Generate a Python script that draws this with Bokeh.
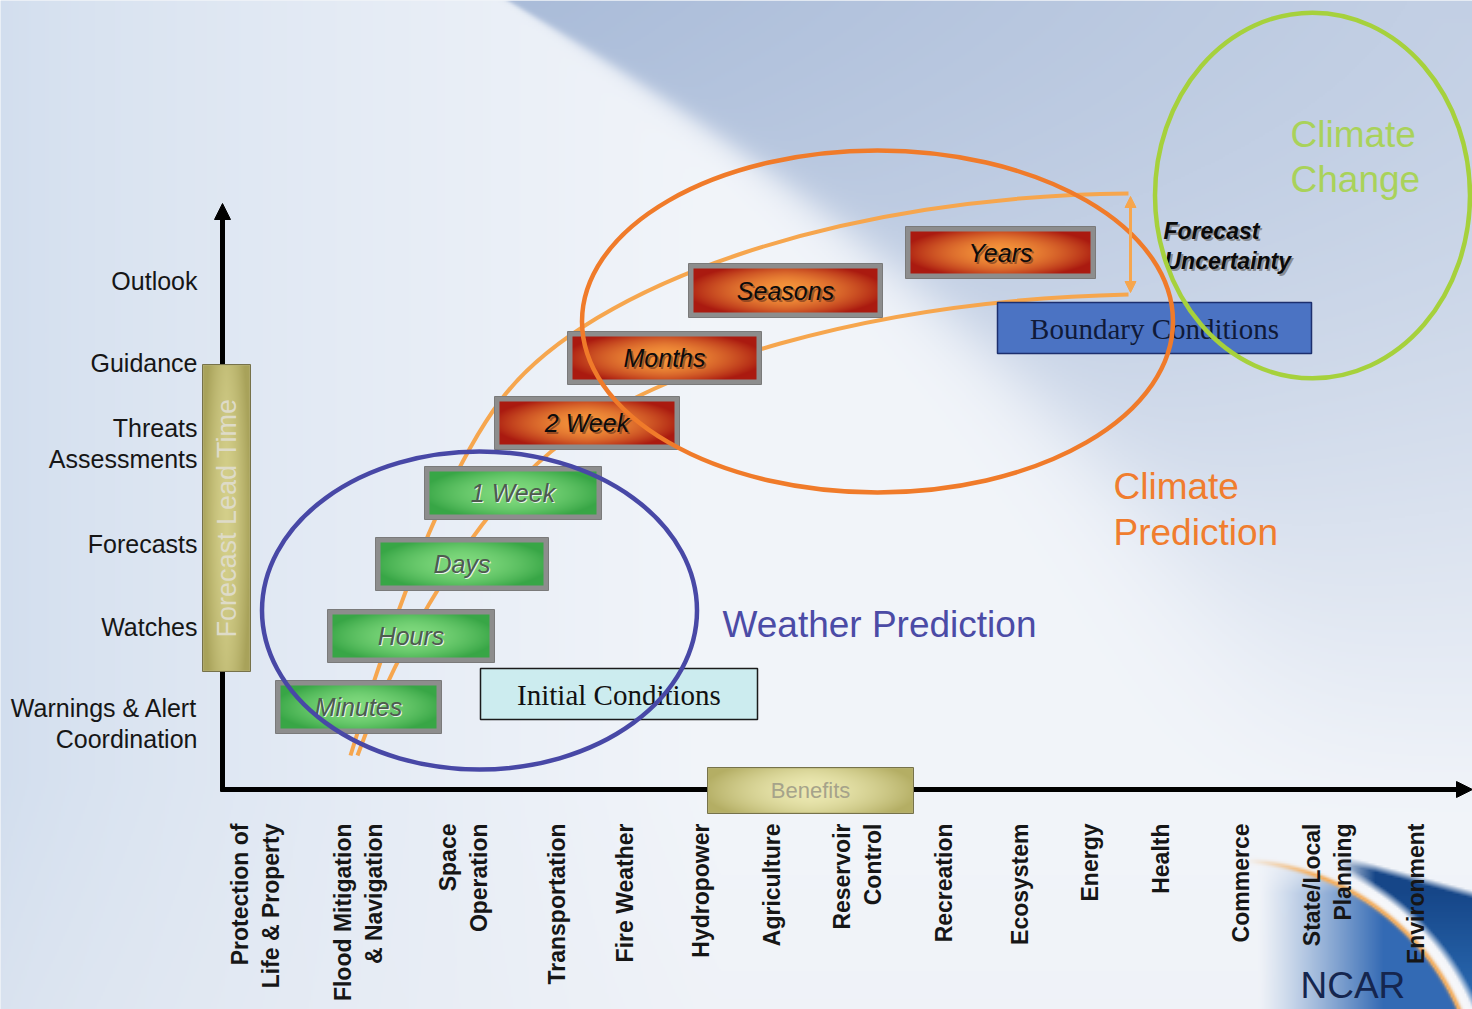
import numpy as np
from bokeh.plotting import figure
from bokeh.models import Arrow, NormalHead, Range1d
from bokeh.core.properties import value
from bokeh.embed import file_html
from bokeh.resources import INLINE

W, H = 1472, 1009

# ---------------- content ----------------
lead_time_levels = ["Outlook", "Guidance", "Threats\nAssessments", "Forecasts",
                    "Watches", "Warnings & Alert\nCoordination"]
benefit_sectors = ["Protection of\nLife & Property", "Flood Mitigation\n& Navigation",
                   "Space\nOperation", "Transportation", "Fire Weather", "Hydropower",
                   "Agriculture", "Reservoir\nControl", "Recreation", "Ecosystem",
                   "Energy", "Health", "Commerce", "State/Local\nPlanning", "Environment"]
forecast_ranges = ["Minutes", "Hours", "Days", "1 Week", "2 Week", "Months", "Seasons", "Years"]
range_regime = ["weather", "weather", "weather", "weather",
                "climate", "climate", "climate", "climate"]
condition_labels = ["Initial Conditions", "Boundary Conditions"]
regime_titles = [["Weather Prediction"], ["Climate", "Prediction"], ["Climate", "Change"]]
uncertainty_label = ["Forecast", "Uncertainty"]

# ---------------- layout (page pixels, measured from the top-left) ----------------
lead_y = [280, 362, 443, 543, 626, 723]
sector_x = [255, 358, 463, 556, 624, 700, 771, 857, 943, 1019, 1089, 1160, 1240, 1327, 1415]
box_l = [275, 327, 375, 424, 494, 567, 688, 905]
box_r = [441, 494, 548, 601, 679, 761, 882, 1095]
box_t = [680, 609, 537, 466, 396, 331, 263, 226]
box_b = [733, 662, 590, 519, 449, 384, 317, 278]
cond_box = [(480, 757, 668, 719), (997, 1311, 302, 353)]
ellipse_cx = [479, 877, 1312]
ellipse_cy = [610, 321, 195]
ellipse_w = [435, 591, 315]
ellipse_h = [318, 342, 366]
ellipse_col = ["#4848a6", "#f07b2a", "#a6d13c"]


def fy(v):
    return H - np.asarray(v, dtype=float)


def to_u32(rgb, flip=True):
    rgb = np.clip(rgb, 0, 255).astype(np.uint8)
    hh, ww = rgb.shape[:2]
    rgba = np.empty((hh, ww, 4), dtype=np.uint8)
    rgba[..., :3] = rgb
    rgba[..., 3] = 255
    if flip:
        rgba = rgba[::-1]
    return np.ascontiguousarray(rgba).view(np.uint32).reshape(hh, ww)


def slide_background(scale=2):
    w, h = W // scale, int(np.ceil(H / scale))
    X, Y = np.meshgrid((np.arange(w) + 0.5) * W / w, (np.arange(h) + 0.5) * H / h)
    left = np.array([210., 222., 238.])
    light = np.array([242., 245., 250.])
    t = (np.clip(X / 720.0, 0, 1) ** 0.75)[..., None]
    col = left + (light - left) * t
    g = (np.clip((Y - 780) / 230.0, 0, 1) * 0.3)[..., None]
    col = col * (1 - g) + np.array([234., 237., 243.]) * g
    # darker diagonal wedge in the upper right
    xb = 507 + 1.663 * Y - 0.000857 * Y ** 2
    soft = 2.0 + 0.07 * Y
    s = 1 / (1 + np.exp(-np.clip((X - xb) / soft, -50, 50)))
    fade = np.clip(1 - Y / 820.0, 0, 1) ** 1.0
    wedge = np.array([170., 188., 217.]) + (np.clip((X - xb) / 900.0, 0, 1)[..., None]
                                              * np.array([24., 19., 11.]))
    m = (s * fade)[..., None]
    col = col * (1 - m) + wedge * m
    # logo swoosh, bottom right
    cx, cy, r = 1230.0, 1110.0, 250.0
    d = np.hypot(X - cx, Y - cy)
    inner = np.clip((r - d) / 2.0, 0, 1)
    t_in = (np.clip((X - 1258) / 125.0, 0, 1) ** 1.15) * np.clip((Y - 848) / 45.0, 0, 1) * inner
    m = (t_in * 0.97)[..., None]
    col = col * (1 - m) + np.array([46., 102., 178.]) * m
    e = d - r
    top_edge = 857 + (X - 1350) * 0.27
    present = np.clip((Y - top_edge) / 8.0, 0, 1) * np.clip((X - 1335) / 40.0, 0, 1)
    mw = np.clip(1 - np.abs(e - 7) / 7.0, 0, 1) * present * 0.8
    col = col * (1 - mw[..., None]) + np.array([250., 250., 252.]) * mw[..., None]
    mb = np.clip((e - 12) / 8.0, 0, 1) * present
    low = np.clip((Y - 890) / 110.0, 0, 1)[..., None]
    band = np.array([22., 70., 136.]) * (1 - low) + np.array([42., 106., 178.]) * low
    col = col * (1 - mb[..., None]) + band * mb[..., None]
    mo = np.exp(-(e / 2.6) ** 2) * np.clip((X - 1245) / 70.0, 0, 1)
    col = col * (1 - mo[..., None]) + np.array([244., 174., 94.]) * mo[..., None]
    return to_u32(col)


def box_gradient(wpx, hpx, mid, edge, ku=0.85, kv=0.55):
    U, V = np.meshgrid(np.linspace(-1, 1, wpx), np.linspace(-1, 1, hpx))
    t = np.clip(np.abs(U) ** 1.6 * ku + np.abs(V) ** 2 * kv, 0, 1)[..., None]
    rgb = np.array(mid, float) * (1 - t) + np.array(edge, float) * t
    return to_u32(rgb)


p = figure(width=W, height=H, x_range=Range1d(0, W), y_range=Range1d(0, H),
           toolbar_location=None, output_backend="svg", min_border=0,
           x_axis_location=None, y_axis_location=None)
p.grid.visible = False
p.outline_line_color = None
p.background_fill_color = "#e6ecf4"
p.border_fill_color = "#e6ecf4"

p.image_rgba(image=[slide_background()], x=0, y=0, dw=W, dh=H)

SANS = value("Liberation Sans")
SERIF = value("Liberation Serif")

# forecast-uncertainty envelope
env_col = "#f6a64e"
p.bezier(x0=[350, 500], y0=fy([755, 400]), x1=[500, 1128], y1=fy([400, 193]),
         cx0=[385, 590], cy0=fy([640, 280]), cx1=[440, 850], cy1=fy([480, 195]),
         line_color=env_col, line_width=4)
p.bezier(x0=[357, 565], y0=fy([755, 440]), x1=[565, 1128], y1=fy([440, 294]),
         cx0=[395, 655], cy0=fy([650, 370]), cx1=[475, 860], cy1=fy([505, 300]),
         line_color=env_col, line_width=4)
p.add_layout(Arrow(start=NormalHead(size=11, fill_color=env_col, line_color=env_col),
                   end=NormalHead(size=11, fill_color=env_col, line_color=env_col),
                   x_start=1130, y_start=float(fy(196)), x_end=1130, y_end=float(fy(292)),
                   line_color=env_col, line_width=3))

# axes drawn as arrows
p.segment(x0=[222, 220], y0=fy([791, 789]), x1=[222, 1462], y1=fy([214, 789]),
          line_color="black", line_width=5)
p.add_layout(Arrow(end=NormalHead(size=16, fill_color="black", line_color="black"),
                   x_start=222, y_start=float(fy(220)), x_end=222, y_end=float(fy(203)),
                   line_width=1, line_color="black"))
p.add_layout(Arrow(end=NormalHead(size=16, fill_color="black", line_color="black"),
                   x_start=1455, y_start=float(fy(789)), x_end=1472, y_end=float(fy(789)),
                   line_width=1, line_color="black"))

# lead-time levels and benefit sectors
p.text(x=[197] * len(lead_time_levels), y=fy(lead_y), text=lead_time_levels,
       text_font=SANS, text_font_size="25px", text_color="#161616",
       text_align="right", text_baseline="middle", text_line_height=1.08)
p.text(x=sector_x, y=fy([823] * len(benefit_sectors)), text=benefit_sectors,
       angle=np.pi / 2, text_font=SANS, text_font_size="23px", text_font_style="bold",
       text_color="#161616", text_align="right", text_baseline="middle",
       text_line_height=1.2)

# gold caption tabs
for (l, r, t, b), label, ang, size, tc, mid, edge in [
        ((202, 250, 364, 671), "Forecast Lead Time", np.pi / 2, "27px", "#dedbc8",
         (212, 207, 138), (168, 162, 90)),
        ((707, 913, 767, 813), "Benefits", 0.0, "22px", "#a6a38a",
         (236, 233, 178), (180, 174, 100))]:
    p.quad(left=[l], right=[r], top=fy([t]), bottom=fy([b]), fill_color="#b7b27a",
           line_color="#76724a", line_width=1)
    p.image_rgba(image=[box_gradient(r - l - 2, b - t - 2, mid, edge, 0.9, 0.35)],
                 x=l + 1, y=float(fy(b - 1)), dw=r - l - 2, dh=b - t - 2)
    p.text(x=[(l + r) / 2], y=fy([(t + b) / 2]), text=[label], angle=ang,
           text_font=SANS, text_font_size=size, text_color=tc,
           text_align="center", text_baseline="middle")

# forecast-range boxes
fill_sets = {"weather": ((128, 218, 126), (56, 166, 70)),
             "climate": ((246, 150, 60), (170, 26, 16))}
p.quad(left=box_l, right=box_r, top=fy(box_t), bottom=fy(box_b),
       fill_color="#8d8d8d", line_color="#7a7a7a", line_width=1)
for l, r, t, b, kind in zip(box_l, box_r, box_t, box_b, range_regime):
    mid, edge = fill_sets[kind]
    p.image_rgba(image=[box_gradient(r - l - 10, b - t - 10, mid, edge)],
                 x=l + 5, y=float(fy(b - 5)), dw=r - l - 10, dh=b - t - 10)

cx_box = [(l + r) / 2 for l, r in zip(box_l, box_r)]
cy_box = [(t + b) / 2 for t, b in zip(box_t, box_b)]
wx = [x for x, k in zip(cx_box, range_regime) if k == "weather"]
wy = [y for y, k in zip(cy_box, range_regime) if k == "weather"]
wt = [s for s, k in zip(forecast_ranges, range_regime) if k == "weather"]
cxs = [x for x, k in zip(cx_box, range_regime) if k == "climate"]
cys = [y for y, k in zip(cy_box, range_regime) if k == "climate"]
ct = [s for s, k in zip(forecast_ranges, range_regime) if k == "climate"]
p.text(x=np.array(wx) + 1, y=fy(np.array(wy) + 1), text=wt, text_font=SANS,
       text_font_size="25px", text_font_style="italic", text_color="#e8f4e8",
       text_align="center", text_baseline="middle")
p.text(x=wx, y=fy(wy), text=wt, text_font=SANS, text_font_size="25px",
       text_font_style="italic", text_color="#4f5a4f",
       text_align="center", text_baseline="middle")
p.text(x=np.array(cxs) + 2, y=fy(np.array(cys) + 2), text=ct, text_font=SANS,
       text_font_size="25px", text_font_style="italic", text_color="#5a2a18",
       text_alpha=0.55, text_align="center", text_baseline="middle")
p.text(x=cxs, y=fy(cys), text=ct, text_font=SANS, text_font_size="25px",
       text_font_style="italic", text_color="#0c0c0c",
       text_align="center", text_baseline="middle")

# initial / boundary condition boxes
cond_fill = ["#ccecef", "#4b73c3"]
cond_line = ["#1b1b1b", "#1c2f6e"]
cond_text = ["#111111", "#101a38"]
for (l, r, t, b), lab, fc, lc, tc in zip(cond_box, condition_labels, cond_fill, cond_line, cond_text):
    p.quad(left=[l], right=[r], top=fy([t]), bottom=fy([b]), fill_color=fc,
           line_color=lc, line_width=1.5)
    p.text(x=[(l + r) / 2], y=fy([(t + b) / 2 + 1]), text=[lab], text_font=SERIF,
           text_font_size="29px", text_color=tc, text_align="center", text_baseline="middle")

# forecast uncertainty caption
unc_x, unc_y = [1163, 1164], [230, 260]
p.text(x=np.array(unc_x) + 2, y=fy(np.array(unc_y) + 2), text=uncertainty_label,
       text_font=SANS, text_font_size="23px", text_font_style="bold italic",
       text_color="#6e6e6e", text_alpha=0.7, text_align="left", text_baseline="middle")
p.text(x=unc_x, y=fy(unc_y), text=uncertainty_label, text_font=SANS,
       text_font_size="23px", text_font_style="bold italic", text_color="#0a0a0a",
       text_align="left", text_baseline="middle")

# regime ellipses
p.ellipse(x=ellipse_cx, y=fy(ellipse_cy), width=ellipse_w, height=ellipse_h,
          fill_color=None, line_color=ellipse_col, line_width=4.5)

title_pos = [([722], [624]), ([1113, 1113], [486, 532]), ([1290, 1290], [134, 179])]
title_col = ["#4b4ba6", "#f07d2e", "#a9d25a"]
for lines, (tx, ty), tc in zip(regime_titles, title_pos, title_col):
    p.text(x=tx, y=fy(ty), text=lines, text_font=SANS, text_font_size="37px",
           text_color=tc, text_align="left", text_baseline="middle")

p.text(x=[1300], y=fy([985]), text=["NCAR"], text_font=SANS, text_font_size="37px",
       text_color="#15264f", text_align="left", text_baseline="middle")

open("out.html", "w").write(file_html(p, INLINE))
